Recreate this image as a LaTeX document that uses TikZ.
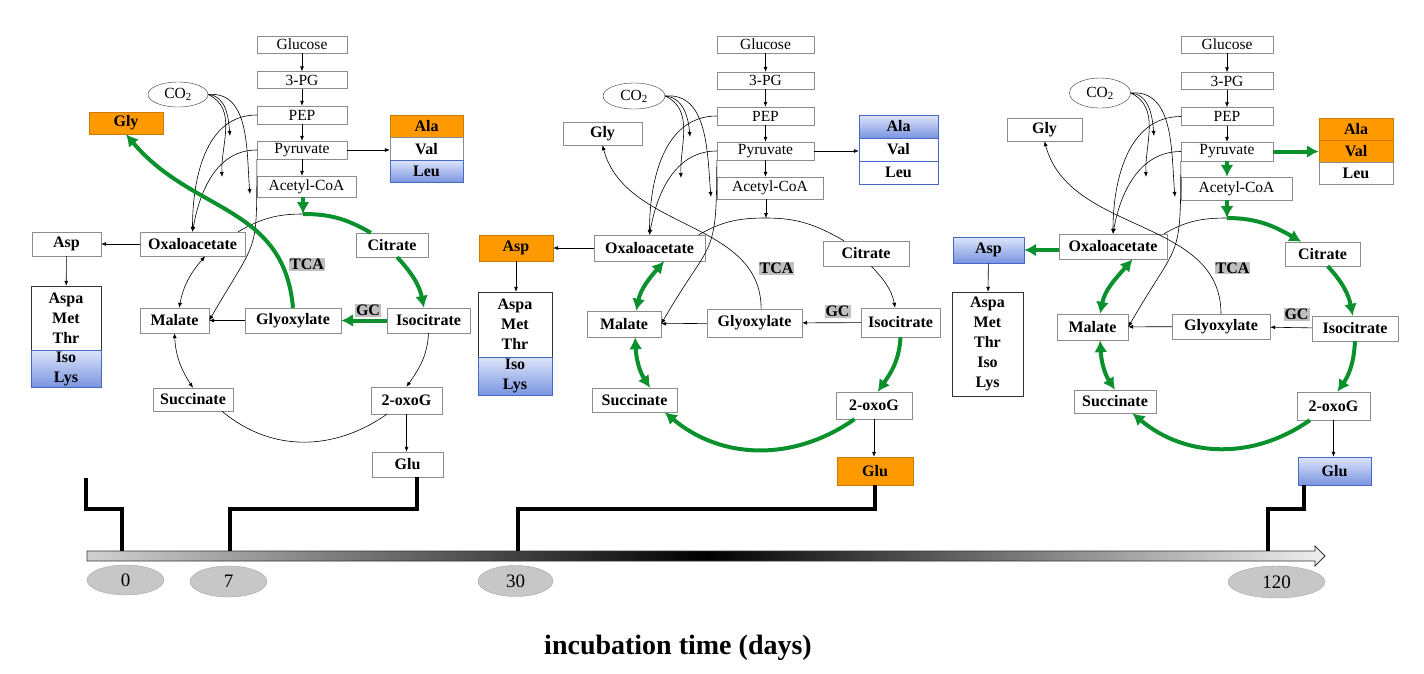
\documentclass[tikz,border=0pt]{standalone}
\usepackage{fontspec}
\setmainfont{Liberation Serif}
\usepackage{tikz}
\usetikzlibrary{shapes,arrows.meta}
\definecolor{orng}{RGB}{255,153,0}
\definecolor{grn}{RGB}{10,145,45}
\definecolor{blueTop}{RGB}{222,229,250}
\definecolor{blueBot}{RGB}{122,148,224}
\definecolor{blueEdge}{RGB}{70,105,200}
\tikzstyle{met}=[rectangle, draw=black!45, fill=white, inner sep=0.5pt, font=\fontsize{15.5}{17}\selectfont]
\tikzstyle{cyc}=[rectangle, draw=black!45, fill=white, inner sep=0.5pt, font=\bfseries\fontsize{16}{18}\selectfont]
\tikzstyle{amor}=[cyc, fill=orng, draw=orng!80!black]
\tikzstyle{ambl}=[cyc, draw=blueEdge, top color=blueTop, bottom color=blueBot]
\tikzstyle{stack}=[cyc, draw=black!80, align=center, font=\bfseries\fontsize{16}{20}\selectfont]
\tikzstyle{stackbl}=[stack, draw=blueEdge, top color=blueTop, bottom color=blueBot]
\tikzstyle{enz}=[rectangle, fill=black!25, inner sep=1pt, font=\bfseries\fontsize{16}{18}\selectfont]
\tikzstyle{gas}=[ellipse, draw=black!80, fill=white, inner sep=0pt, font=\fontsize{15.5}{17}\selectfont]
\tikzstyle{cycline}=[line width=0.6pt, black]
\tikzstyle{arr}=[-{Latex[length=5pt,width=4pt]}, line width=0.6pt, black]
\tikzstyle{dbl}=[{Latex[length=5pt,width=4pt]}-{Latex[length=5pt,width=4pt]}, line width=0.6pt, black]
\tikzstyle{gline}=[draw=grn, line width=4pt]
\tikzstyle{garr}=[-{Latex[length=12pt,width=13pt]}, draw=grn, line width=4pt]
\tikzstyle{gdbl}=[{Latex[length=12pt,width=13pt]}-{Latex[length=12pt,width=13pt]}, draw=grn, line width=4pt]
\tikzstyle{tline}=[line width=4pt, black]
\tikzstyle{daynode}=[ellipse, fill=black!22, draw=black!35, inner sep=0pt, font=\fontsize{19}{21}\selectfont]

\begin{document}
\begin{tikzpicture}[x=1pt,y=1pt]
\useasboundingbox (0,0) rectangle (1424,-673);

%Panel One (day 7)
\node[met, minimum width=90pt, minimum height=17pt] (glc1) at (302,-44.5){Glucose};
\node[met, minimum width=90pt, minimum height=17pt] (pg1) at (302,-80){3-PG};
\node[met, minimum width=90pt, minimum height=18pt] (pep1) at (302,-115){PEP};
\node[met, minimum width=90pt, minimum height=18pt] (pyr1) at (302,-150){Pyruvate};
\node[met, minimum width=99pt, minimum height=21pt] (aco1) at (306.5,-186.5){Acetyl-CoA};
\node[gas, minimum width=60pt, minimum height=25pt] (co21) at (178,-94.5){CO\textsubscript{2}};
\node[amor, minimum width=74pt, minimum height=22pt] (gly1) at (126,-123){Gly};
\node[amor, minimum width=73pt, minimum height=22.5pt] (ala1) at (426.5,-126.25){Ala};
\node[cyc, minimum width=73pt, minimum height=22.5pt] (val1) at (426.5,-148.75){Val};
\node[ambl, minimum width=73pt, minimum height=22.5pt] (leu1) at (426.5,-171.25){Leu};
\node[cyc, minimum width=69pt, minimum height=24pt] (asp1) at (66.5,-244){Asp};
\node[cyc, minimum width=105pt, minimum height=24pt] (oaa1) at (192.5,-244){Oxaloacetate};
\node[cyc, minimum width=72pt, minimum height=24pt] (cit1) at (392,-245){Citrate};
\node[enz] (tca1) at (307,-264.5){TCA};
\node[stack, minimum width=70pt, minimum height=64pt] (amt1) at (66,-318){Aspa\\Met\\Thr};
\node[stackbl, minimum width=70pt, minimum height=37pt] (il1) at (66,-368.5){Iso\\Lys};
\node[cyc, minimum width=69pt, minimum height=25pt] (mal1) at (174.5,-320.5){Malate};
\node[cyc, minimum width=96pt, minimum height=25pt] (glx1) at (293,-320.5){Glyoxylate};
\node[enz] (gc1) at (368,-310.5){GC};
\node[cyc, minimum width=83pt, minimum height=25pt] (ict1) at (428.5,-320.5){Isocitrate};
\node[cyc, minimum width=80pt, minimum height=23pt] (suc1) at (193,-399.5){Succinate};
\node[cyc, minimum width=71pt, minimum height=27pt] (oxg1) at (406.5,-400.5){2-oxoG};
\node[cyc, minimum width=71pt, minimum height=25pt] (glu1) at (407.5,-464.5){Glu};
\coordinate (top1) at (303,-214);
\coordinate (cz1a) at (230,-136);
\coordinate (cz1b) at (222,-177);
\coordinate (cz1c) at (250,-194);
%arrows
\draw[arr] (glc1) -- (pg1);
\draw[arr] (pg1) -- (pep1);
\draw[arr] (pep1) -- (pyr1);
\draw[arr] (pyr1.south) -- (pyr1.south |- aco1.north);
\draw[arr] (pyr1.east) -- (pyr1.east -| val1.west);
\draw[arr] (pep1.west) to[out=180,in=90] (oaa1.north);
\draw[arr] (pyr1.west) to[out=180,in=80] (oaa1.north);
\draw[arr] (pyr1.south west) to[out=-90,in=60,looseness=1.5] (mal1.east);
\draw[arr] (co21.east) to[out=-5,in=95] (cz1a);
\draw[arr] (co21.east) to[out=-25,in=92] (cz1b);
\draw[arr] (co21.east) to[out=5,in=95] (cz1c);
\draw[cycline] (oaa1.15) to[out=30,in=180] (top1);
\draw[arr] (ict1.south) to[out=-93,in=55] (oxg1.north);
\draw[cycline] (oxg1.-145) to[out=-145,in=-40] (suc1.-22);
\draw[dbl] (suc1.north) to[out=123,in=-87] (mal1.south);
\draw[dbl] (mal1.70) to[out=79,in=-131] (oaa1.-44);
\draw[arr] (glx1) -- (mal1);
\draw[arr] (oaa1) -- (asp1);
\draw[arr] (asp1) -- (amt1);
\draw[arr] (oxg1.south) -- (oxg1.south |- glu1.north);
\draw[garr] (top1 |- aco1.south) -- (top1);
\draw[gline] (top1) to[out=0,in=150] (cit1.150);
\draw[garr] (cit1.-67) to[out=-47,in=101] (ict1.110);
\draw[garr] (ict1) -- (glx1);
\draw[garr] (glx1.north) to[out=95,in=-50,looseness=1.1] (gly1.south);

%Panel Two (day 30)
\node[met, minimum width=97pt, minimum height=17pt] (glc2) at (765.5,-44.5){Glucose};
\node[met, minimum width=97pt, minimum height=17pt] (pg2) at (765.5,-80.5){3-PG};
\node[met, minimum width=97pt, minimum height=18pt] (pep2) at (765.5,-116){PEP};
\node[met, minimum width=97pt, minimum height=18pt] (pyr2) at (765.5,-151){Pyruvate};
\node[met, minimum width=106pt, minimum height=22pt] (aco2) at (770,-188){Acetyl-CoA};
\node[gas, minimum width=62pt, minimum height=26pt] (co22) at (634,-96){CO\textsubscript{2}};
\node[cyc, minimum width=79pt, minimum height=23pt] (gly2) at (602.5,-133.5){Gly};
\node[ambl, minimum width=79pt, minimum height=23pt] (ala2) at (898.5,-126.5){Ala};
\node[cyc, draw=blueEdge, minimum width=79pt, minimum height=23pt] (val2) at (898.5,-149.5){Val};
\node[cyc, draw=blueEdge, minimum width=79pt, minimum height=23pt] (leu2) at (898.5,-172.5){Leu};
\node[amor, minimum width=74pt, minimum height=26pt] (asp2) at (516,-248){Asp};
\node[cyc, minimum width=111pt, minimum height=26pt] (oaa2) at (649.5,-248){Oxaloacetate};
\node[cyc, minimum width=86pt, minimum height=25pt] (cit2) at (866,-253.5){Citrate};
\node[enz] (tca2) at (776.5,-268.5){TCA};
\node[stack, minimum width=74pt, minimum height=65pt] (amt2) at (515,-324.5){Aspa\\Met\\Thr};
\node[stackbl, minimum width=74pt, minimum height=38pt] (il2) at (515,-376){Iso\\Lys};
\node[cyc, minimum width=74pt, minimum height=26pt] (mal2) at (624,-324){Malate};
\node[cyc, minimum width=95pt, minimum height=28pt] (glx2) at (754.5,-323){Glyoxylate};
\node[enz] (gc2) at (837.5,-311.5){GC};
\node[cyc, minimum width=79pt, minimum height=29pt] (ict2) at (900.5,-322.5){Isocitrate};
\node[cyc, minimum width=85pt, minimum height=24pt] (suc2) at (634.5,-400){Succinate};
\node[cyc, minimum width=76pt, minimum height=27pt] (oxg2) at (874,-405.5){2-oxoG};
\node[amor, minimum width=76pt, minimum height=28pt] (glu2) at (875,-471){Glu};
\coordinate (top2) at (766,-218);
\coordinate (cz2a) at (690,-137);
\coordinate (cz2b) at (681,-178);
\coordinate (cz2c) at (711,-197);
%arrows
\draw[arr] (glc2) -- (pg2);
\draw[arr] (pg2) -- (pep2);
\draw[arr] (pep2) -- (pyr2);
\draw[arr] (pyr2.south) -- (pyr2.south |- aco2.north);
\draw[arr] (pyr2.east) -- (pyr2.east -| val2.west);
\draw[arr] (pep2.west) to[out=180,in=90] (oaa2.north);
\draw[arr] (pyr2.west) to[out=180,in=80] (oaa2.north);
\draw[arr] (pyr2.south west) to[out=-90,in=60,looseness=1.5] (mal2.east);
\draw[arr] (co22.east) to[out=-5,in=95] (cz2a);
\draw[arr] (co22.east) to[out=-25,in=92] (cz2b);
\draw[arr] (co22.east) to[out=5,in=95] (cz2c);
\draw[arr] (top2 |- aco2.south) -- (top2);
\draw[cycline] (oaa2.15) to[out=30,in=180] (top2);
\draw[cycline] (top2) to[out=0,in=150] (cit2.150);
\draw[arr] (cit2.-67) to[out=-47,in=101] (ict2.110);
\draw[arr] (ict2) -- (glx2);
\draw[arr] (glx2) -- (mal2);
\draw[arr] (glx2.65) to[out=90,in=-75] (gly2.south);
\draw[arr] (oaa2) -- (asp2);
\draw[arr] (asp2.south) -- (asp2.south |- amt2.north);
\draw[arr] (oxg2.south) -- (oxg2.south |- glu2.north);
\draw[garr] (ict2.south) to[out=-93,in=55] (oxg2.75);
\draw[garr] (oxg2.-145) to[out=-145,in=-40] (suc2.-22);
\draw[gdbl] (suc2.38) to[out=123,in=-87] (mal2.-50);
\draw[gdbl] (mal2.47) to[out=79,in=-131] (oaa2.-42);

%Panel Three (day 120)
\node[met, minimum width=92pt, minimum height=17pt] (glc3) at (1227,-44.5){Glucose};
\node[met, minimum width=92pt, minimum height=17pt] (pg3) at (1227,-81){3-PG};
\node[met, minimum width=92pt, minimum height=18pt] (pep3) at (1227,-116.5){PEP};
\node[met, minimum width=92pt, minimum height=19pt] (pyr3) at (1227,-151.5){Pyruvate};
\node[met, minimum width=111pt, minimum height=23pt] (aco3) at (1236.5,-188.5){Acetyl-CoA};
\node[gas, minimum width=61pt, minimum height=30pt] (co23) at (1100,-93){CO\textsubscript{2}};
\node[cyc, minimum width=75pt, minimum height=23pt] (gly3) at (1044.5,-129.5){Gly};
\node[amor, minimum width=74pt, minimum height=22pt] (ala3) at (1356,-129){Ala};
\node[amor, minimum width=74pt, minimum height=22pt] (val3) at (1356,-151){Val};
\node[cyc, minimum width=74pt, minimum height=22pt] (leu3) at (1356,-173){Leu};
\node[ambl, minimum width=71pt, minimum height=26pt] (asp3) at (988.5,-250){Asp};
\node[cyc, minimum width=108pt, minimum height=25pt] (oaa3) at (1113,-246.5){Oxaloacetate};
\node[cyc, minimum width=75pt, minimum height=24pt] (cit3) at (1322.5,-254){Citrate};
\node[enz] (tca3) at (1232.5,-268){TCA};
\node[stack, minimum width=71pt, minimum height=104pt] (amt3) at (987.5,-344){Aspa\\Met\\Thr\\Iso\\Lys};
\node[cyc, minimum width=71pt, minimum height=26pt] (mal3) at (1092.5,-327){Malate};
\node[cyc, minimum width=98pt, minimum height=25pt] (glx3) at (1221,-326.5){Glyoxylate};
\node[enz] (gc3) at (1296.5,-314.5){GC};
\node[cyc, minimum width=86pt, minimum height=25pt] (ict3) at (1355,-328.5){Isocitrate};
\node[cyc, minimum width=82pt, minimum height=23pt] (suc3) at (1115,-401.5){Succinate};
\node[cyc, minimum width=73pt, minimum height=28pt] (oxg3) at (1333.5,-406){2-oxoG};
\node[ambl, minimum width=73pt, minimum height=28pt] (glu3) at (1334.5,-471){Glu};
\coordinate (top3) at (1227,-218);
\coordinate (cz3a) at (1154,-136);
\coordinate (cz3b) at (1146,-177);
\coordinate (cz3c) at (1175,-197);
%arrows
\draw[arr] (glc3) -- (pg3);
\draw[arr] (pg3) -- (pep3);
\draw[arr] (pep3) -- (pyr3);
\draw[arr] (pep3.west) to[out=180,in=90] (oaa3.north);
\draw[arr] (pyr3.west) to[out=180,in=80] (oaa3.north);
\draw[arr] (pyr3.south west) to[out=-90,in=60,looseness=1.5] (mal3.east);
\draw[arr] (co23.east) to[out=-5,in=95] (cz3a);
\draw[arr] (co23.east) to[out=-25,in=92] (cz3b);
\draw[arr] (co23.east) to[out=5,in=95] (cz3c);
\draw[cycline] (oaa3.14) to[out=30,in=180] (top3);
\draw[arr] (ict3) -- (glx3);
\draw[arr] (glx3) -- (mal3);
\draw[arr] (glx3.north) to[out=90,in=-75] (gly3.south);
\draw[arr] (asp3) -- (amt3);
\draw[arr] (oxg3.south) -- (oxg3.south |- glu3.north);
\draw[garr] (pyr3) -- (pyr3 |- aco3.north);
\draw[garr] (pyr3.east) -- (pyr3.east -| val3.west);
\draw[garr] (top3 |- aco3.south) -- (top3);
\draw[garr] (top3) to[out=0,in=150] (cit3.150);
\draw[garr] (cit3.-67) to[out=-47,in=101] (ict3.100);
\draw[garr] (ict3.south) to[out=-93,in=55] (oxg3.75);
\draw[garr] (oxg3.-149) to[out=-145,in=-40] (suc3.-34);
\draw[gdbl] (suc3.north) to[out=123,in=-87] (mal3.-60);
\draw[gdbl] (mal3.60) to[out=79,in=-131] (oaa3.-33);
\draw[garr] (asp3.east -| oaa3.west) -- (asp3.east);

%Time axis
\shade[left color=black!18, right color=black!6, middle color=black, draw=black!80, line width=0.8pt]
  (87,-551) -- (1315,-551) -- (1315,-546) -- (1325,-556) -- (1315,-566) -- (1315,-561) -- (87,-561) -- cycle;
\coordinate (lft) at (86,-478);
\coordinate (t0) at (122,-551);
\coordinate (t7) at (230,-551);
\coordinate (t30) at (518,-551);
\coordinate (t120) at (1268,-551);
\draw[tline] (lft) -- ++(0,-31) -| (t0);
\draw[tline] (glu1.-53) -- ++(0,-32) -| (t7);
\draw[tline] (glu2.south) -- ++(0,-24) -| (t30);
\draw[tline] (glu3.-155) -- ++(0,-24) -| (t120);
\node[daynode, minimum width=77pt, minimum height=30pt] (d0) at (125.5,-580){0};
\node[daynode, minimum width=77pt, minimum height=31pt] (d7) at (228.5,-581.5){7};
\node[daynode, minimum width=75pt, minimum height=31pt] (d30) at (515.5,-581){30};
\node[daynode, minimum width=97pt, minimum height=32pt] (d120) at (1276.5,-582){120};
\node[font=\bfseries\fontsize{28}{32}\selectfont] (ttl) at (678,-648){incubation time (days)};

\end{tikzpicture}
\end{document}
